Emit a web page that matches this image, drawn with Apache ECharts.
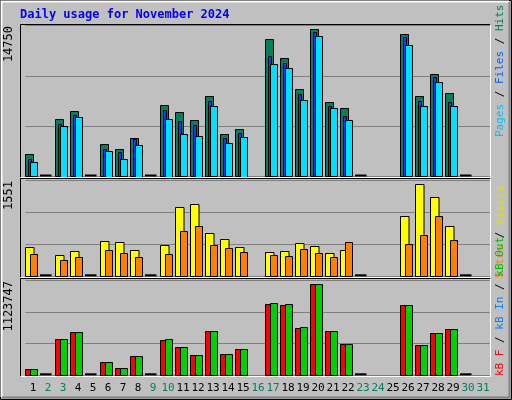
<!DOCTYPE html>
<html><head><meta charset="utf-8">
<script src="https://cdn.jsdelivr.net/npm/echarts@6/dist/echarts.min.js"></script>
<style>html,body{margin:0;padding:0;background:#c0c0c0}#c{width:512px;height:400px}</style>
</head><body><div id="c"></div>
<script>
var days = ['1','2','3','4','5','6','7','8','9','10','11','12','13','14','15','16','17','18','19','20','21','22','23','24','25','26','27','28','29','30','31'];
var weekend = [2,3,9,10,16,17,23,24,30,31];
var N = null;
var hits  = [2180,0,5600,6380,0,3160,2670,3740,0,6970,6280,5500,7850,4130,4620,N,13410,11560,8530,14390,7260,6670,0,N,N,13900,7850,9990,8140,0,N];
var files = [1690,0,5110,5990,0,2670,2380,3650,0,6480,5400,5010,7360,3740,4230,N,11750,11070,8040,14100,6870,5890,0,N,N,13610,7360,9700,7260,0,N];
var pages = [1400,0,4950,5830,0,2510,1690,3090,0,5630,4130,3970,6870,3260,3870,N,10970,10580,7460,13710,6670,5500,0,N,N,12830,6870,9210,6870,0,N];
var visits= [469,0,339,404,0,565,549,420,0,501,1115,1163,695,598,469,N,388,404,533,485,372,420,0,N,N,969,1486,1276,808,0,N];
var sites = [355,0,259,307,0,420,372,307,0,355,727,808,501,452,388,N,339,323,436,372,307,549,0,N,N,517,662,969,582,0,N];
var kbF   = [71000,0,425800,508600,0,153800,82800,224700,0,414000,331200,236600,520500,248400,307500,N,839800,828000,556000,1076400,520500,366700,0,N,N,828000,354900,496800,544100,0,N];
var kbOut = [71000,0,425800,508600,0,153800,82800,224700,0,425800,331200,236600,520500,248400,307500,N,851700,839800,567800,1076400,520500,366700,0,N,N,828000,354900,496800,544100,0,N];
var maxes = [14750,1551,1123747];

var chart = echarts.init(document.getElementById('c'));
function mk(data, grid, color, x0, x1, dash){
  return {type:'custom', xAxisIndex:grid, yAxisIndex:grid, data:data.map(function(v,i){return [i,v];}),
    renderItem:function(params, api){
      var v = api.value(1), i = api.value(0);
      if (data[i] === null) return;
      var b = api.coord([i,0]), p = api.coord([i,v]);
      if (data[i] === 0){
        if(!dash) return;
        return {type:'rect', shape:{x:b[0]-8, y:b[1]-2, width:11.5, height:2}, style:{fill:'#000'}};
      }
      return {type:'rect', shape:{x:Math.round(b[0]+x0)+0.5, y:Math.round(p[1])+0.5, width:x1-x0, height:Math.round(b[1]-p[1])}, style:{fill:color, stroke:'#000', lineWidth:1}};
    }};
}
var grids = [{top:25.7,h:150.8},{top:180.3,h:96},{top:280.3,h:95}];
var font = 'DejaVu Sans Mono';
var opt = {
  animation:false,
  backgroundColor:'#c0c0c0',
  grid: grids.map(function(g){return {left:25.5, width:465, top:g.top, height:g.h};}),
  xAxis: grids.map(function(g,k){return {type:'category', gridIndex:k, data:days, boundaryGap:true,
    axisLine:{show:false}, axisTick:{show:false},
    axisLabel:{show:k===2, margin:7, interval:0, fontFamily:font, fontSize:11,
      formatter:function(v){return weekend.indexOf(+v)>=0?'{w|'+v+'}':'{d|'+v+'}';},
      rich:{w:{color:'#008060',fontFamily:font,fontSize:11},d:{color:'#000',fontFamily:font,fontSize:11}}}};}),
  yAxis: grids.map(function(g,k){return {type:'value', gridIndex:k, min:0, max:maxes[k], interval:maxes[k]/3,
    axisLabel:{show:false}, axisLine:{show:false}, axisTick:{show:false},
    splitLine:{show:true, lineStyle:{color:'#808080', width:1}}};}),
  series:[
    mk(hits,0,'#00805c',-8,0,true), mk(files,0,'#0040ff',-5.5,-2.5,false), mk(pages,0,'#00e0ff',-3.5,3.5,false),
    mk(visits,1,'#ffff00',-8,0.5,true), mk(sites,1,'#ff8000',-3.5,3.5,false),
    mk(kbF,2,'#ff0000',-8,-3,true), mk(kbOut,2,'#00d000',-3.5,3.5,false)
  ],
  graphic:[
    {type:'rect', shape:{x:0.5,y:0.5,width:511,height:399}, style:{fill:null, stroke:'#000'}, z:0},
    {type:'polyline', shape:{points:[[1.5,397],[1.5,1.5],[509,1.5]]}, style:{stroke:'#fff',lineWidth:2,fill:null}},
    {type:'polyline', shape:{points:[[2,397.5],[509.5,397.5],[509.5,2]]}, style:{stroke:'#808080',lineWidth:2,fill:null}},
    {type:'text', x:20, y:9, style:{text:'Daily usage for November 2024', fill:'#0000ff', font:'bold 12px "DejaVu Sans Mono"'}}
  ]
};
var panels=[[24.5,177.5],[178.5,277.5],[278.5,376.5]];
panels.forEach(function(p){
  opt.graphic.push({type:'polyline', shape:{points:[[20.5,p[1]],[20.5,p[0]],[490.5,p[0]]]}, style:{stroke:'#000',fill:null,lineWidth:1}, z:50});
  opt.graphic.push({type:'polyline', shape:{points:[[20.5,p[1]],[490.5,p[1]],[490.5,p[0]]]}, style:{stroke:'#fff',fill:null,lineWidth:1}, z:50});
});
var ylab=[['14750',26],['1551',181],['1123747',281]];
ylab.forEach(function(l){
  opt.graphic.push({type:'text', x:9, y:l[1], rotation:Math.PI/2, style:{text:l[0], fill:'#000', font:'12px "DejaVu Sans Mono"', align:'right', verticalAlign:'middle'}});
});
function side(y, parts){
  var txt=parts.map(function(p,i){return '{s'+i+'|'+p[0]+'}';}).join('');
  var rich={}; parts.forEach(function(p,i){rich['s'+i]={fill:p[1], font:'11px "DejaVu Sans Mono"'};});
  opt.graphic.push({type:'text', x:500, y:y, rotation:Math.PI/2, style:{text:txt, rich:rich, align:'left', verticalAlign:'middle'}});
}
side(137,[['Pages','#00c0ff'],[' / ','#000'],['Files','#0060ff'],[' / ','#000'],['Hits','#008060']]);
side(278,[['Sites','#ff8000'],[' / ','#000'],['Visits','#e0e000']]);
side(376,[['kB F','#ff0000'],[' / ','#000'],['kB In','#0080ff'],[' / ','#000'],['kB Out','#00c000']]);
chart.setOption(opt);
</script></body></html>
